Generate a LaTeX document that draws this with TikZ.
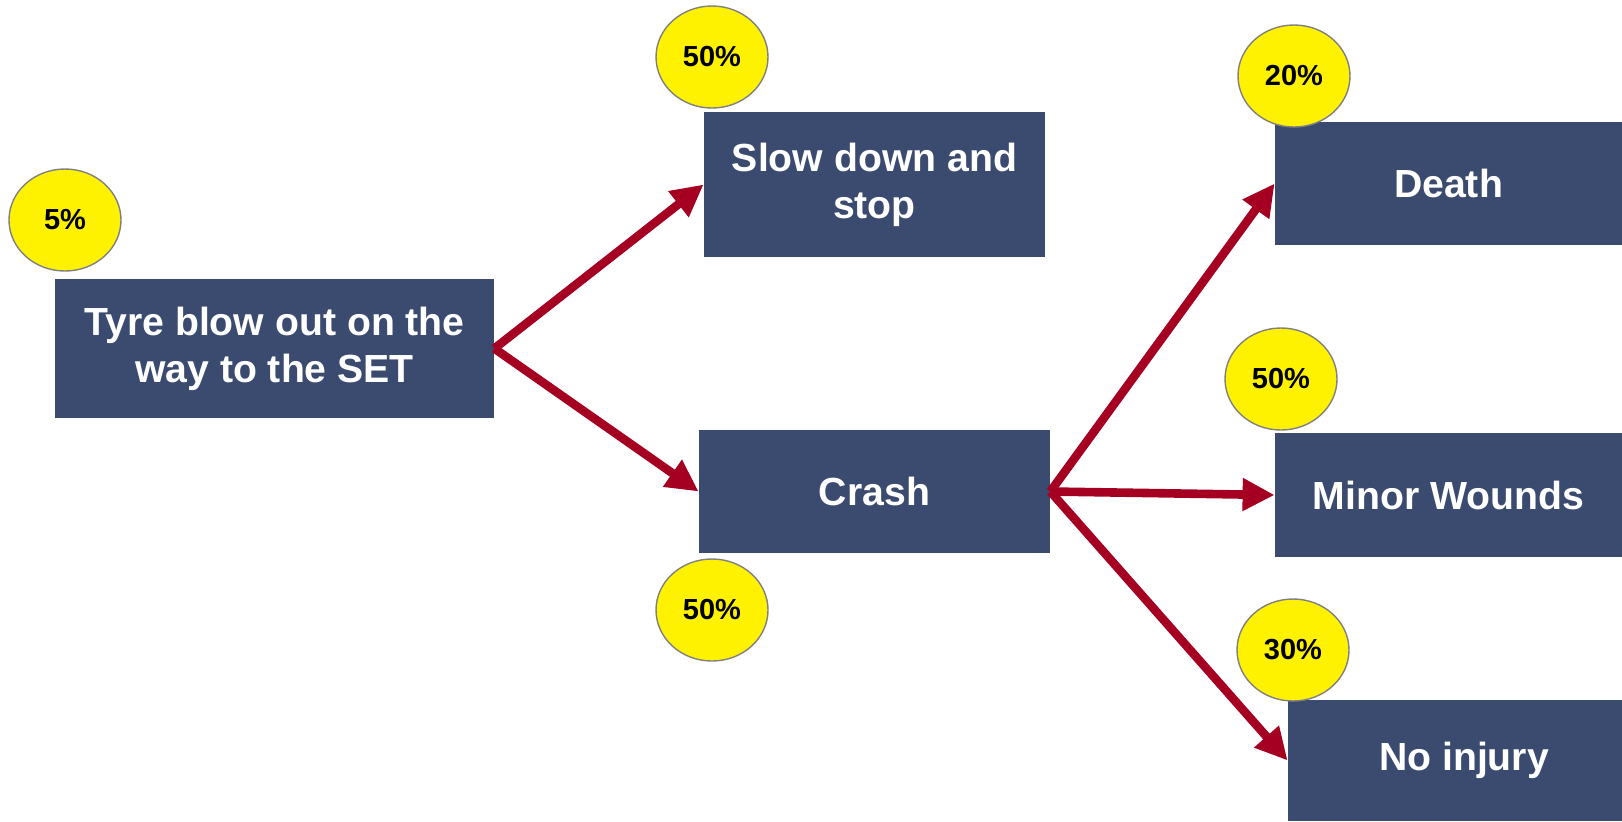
\documentclass[tikz,border=0pt]{standalone}
\usepackage{fontspec}
\setmainfont{Liberation Sans}
\usetikzlibrary{arrows.meta, shapes.geometric}
\definecolor{boxblue}{RGB}{59,74,111}
\definecolor{arrowred}{RGB}{165,0,33}

\begin{document}
\begin{tikzpicture}[x=0.5pt, y=-0.5pt,
  event/.style={fill=boxblue, text=white, font=\bfseries\fontsize{19.6}{23.5}\selectfont, align=center, inner sep=0pt},
  prob/.style={ellipse, draw=gray, line width=0.7pt, fill=yellow, minimum width=56pt, minimum height=51pt, inner sep=0pt, font=\bfseries\fontsize{14.5}{17}\selectfont},
  branch/.style={draw=arrowred, line width=4.3pt, -{Triangle[length=16pt, width=15.5pt]}}]
  %tikz  event tree, tyre blow out
    \useasboundingbox (0,0) rectangle (1622,821);
    \clip (0,0) rectangle (1622,821);

    \node[event, minimum width=219.5pt, minimum height=69.5pt] (tyre) at (274.5,348.5) {Tyre blow out on the\\way to the SET};
    \node[event, minimum width=170.5pt, minimum height=72.5pt] (slow) at (874.5,184.5) {Slow down and\\stop};
    \node[event, minimum width=175.5pt, minimum height=61.5pt] (crash) at (874.5,491.5) {Crash};
    \node[event, minimum width=173.5pt, minimum height=61.5pt] (death) at (1448.5,183.5) {Death};
    \node[event, minimum width=173.5pt, minimum height=62pt] (minor) at (1448.5,495) {Minor Wounds};
    \node[event, minimum width=176pt, minimum height=60.5pt] (noinj) at (1464,760.5) {No injury};

    \node[prob] (ptyre) at (65,220) {5\%};
    \node[prob] (pslow) at (712,57) {50\%};
    \node[prob] (pcrash) at (712,610) {50\%};
    \node[prob] (pdeath) at (1294,76) {20\%};
    \node[prob] (pminor) at (1281,379) {50\%};
    \node[prob] (pnoinj) at (1293,650) {30\%};

    \draw[branch] (tyre.east) -- (slow.west);
    \draw[branch] (tyre.east) -- (crash.west);
    \draw[branch] (crash.east) -- (death.west);
    \draw[branch] (crash.east) -- (minor.west);
    \draw[branch] (crash.east) -- (noinj.west);

  \end{tikzpicture}
\end{document}
